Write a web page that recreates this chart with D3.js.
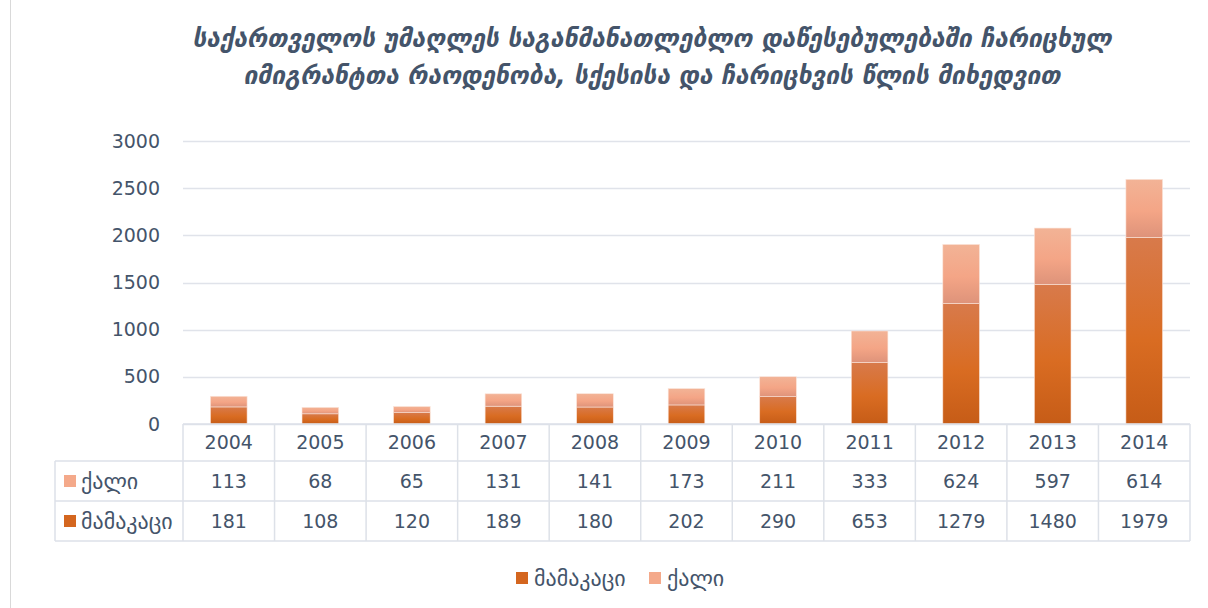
<!DOCTYPE html>
<html>
<head>
<meta charset="utf-8">
<script src="https://cdn.jsdelivr.net/npm/d3@7"></script>
<style>
  body { margin: 0; background: #fff; }
  text { font-family: "DejaVu Sans", "Noto Sans", sans-serif; fill: #44546a; }
</style>
</head>
<body>
<script>
// data
var years = ["2004","2005","2006","2007","2008","2009","2010","2011","2012","2013","2014"];
var male = [181, 108, 120, 189, 180, 202, 290, 653, 1279, 1480, 1979];
var female = [113, 68, 65, 131, 141, 173, 211, 333, 624, 597, 614];
var seriesNames = ["მამაკაცი", "ქალი"];
var yTicks = [0, 500, 1000, 1500, 2000, 2500, 3000];
var titleLines = ["საქართველოს უმაღლეს საგანმანათლებლო დაწესებულებაში ჩარიცხულ",
                  "იმიგრანტთა რაოდენობა, სქესისა და ჩარიცხვის წლის მიხედვით"];

var W = 1208, H = 608;
var margin = {left: 183, right: 18, top: 141, bottom: 184};

var svg = d3.select("body").append("svg")
    .attr("width", W)
    .attr("height", H);

// gradients for the bars
var defs = svg.append("defs");
var gm = defs.append("linearGradient").attr("id", "gMale").attr("x1", 0).attr("y1", 0).attr("x2", 0).attr("y2", 1);
gm.append("stop").attr("offset", "0%").attr("stop-color", "#d87a4b");
gm.append("stop").attr("offset", "55%").attr("stop-color", "#d96c22");
gm.append("stop").attr("offset", "100%").attr("stop-color", "#c65c17");
var gf = defs.append("linearGradient").attr("id", "gFemale").attr("x1", 0).attr("y1", 0).attr("x2", 0).attr("y2", 1);
gf.append("stop").attr("offset", "0%").attr("stop-color", "#f2b396");
gf.append("stop").attr("offset", "55%").attr("stop-color", "#f4a586");
gf.append("stop").attr("offset", "100%").attr("stop-color", "#de937a");

// outer frame
svg.append("rect")
    .attr("x", 10.5).attr("y", -2).attr("width", W - 8).attr("height", H + 4)
    .attr("fill", "none").attr("stroke", "#d9d9d9");

// title
var titleWidths = [919, 817];
svg.append("g").selectAll("text")
    .data(titleLines)
  .enter().append("text")
    .attr("x", 652)
    .attr("y", function(d, i) { return 47 + i * 37; })
    .attr("text-anchor", "middle")
    .attr("textLength", function(d, i) { return titleWidths[i]; })
    .attr("lengthAdjust", "spacingAndGlyphs")
    .style("font-size", "25px")
    .style("font-style", "italic")
    .style("font-weight", "bold")
    .attr("fill", "#44546a")
    .text(function(d) { return d; });

var x = d3.scaleBand()
    .domain(years)
    .range([margin.left, W - margin.right])
    .paddingInner(0)
    .paddingOuter(0);

var y = d3.scaleLinear()
    .domain([0, 3000])
    .range([H - margin.bottom, margin.top]);

// gridlines
svg.append("g").selectAll("line")
    .data(yTicks)
  .enter().append("line")
    .attr("x1", margin.left).attr("x2", W - margin.right)
    .attr("y1", function(d) { return Math.round(y(d)) + 0.5; })
    .attr("y2", function(d) { return Math.round(y(d)) + 0.5; })
    .attr("stroke", "#e0e3ea")
    .attr("stroke-width", 1.5);

// y axis labels
var yAxis = d3.axisLeft(y).tickValues(yTicks).tickFormat(d3.format("d")).tickSize(0).tickPadding(0);
var ya = svg.append("g")
    .attr("transform", "translate(160,0)")
    .call(yAxis);
ya.select(".domain").remove();
ya.selectAll("text")
    .style("font-size", "19px")
    .style("font-family", "'DejaVu Sans', sans-serif")
    .attr("fill", "#5a6478");

// stacked bars
var rows = years.map(function(yr, i) { return {year: yr, male: male[i], female: female[i]}; });
var stack = d3.stack().keys(["male", "female"]);
var layers = stack(rows);
var fills = {male: "url(#gMale)", female: "url(#gFemale)"};
var bw = x.bandwidth() * 0.4;

svg.append("g").selectAll("g")
    .data(layers)
  .enter().append("g")
    .attr("fill", function(d) { return fills[d.key]; })
  .selectAll("rect")
    .data(function(d) { return d; })
  .enter().append("rect")
    .attr("x", function(d) { return x(d.data.year) + (x.bandwidth() - bw) / 2; })
    .attr("y", function(d) { return y(d[1]); })
    .attr("width", bw)
    .attr("height", function(d) { return y(d[0]) - y(d[1]); })
    .attr("stroke", "#fbe3d8")
    .attr("stroke-width", 0.6);

// data table
var tableLeft = 55;
var r0 = H - margin.bottom, r1 = r0 + 37, r2 = r1 + 40, r3 = r2 + 40;
var right = W - margin.right;
var tcol = "#dde1e8";
var tg = svg.append("g").attr("stroke", tcol).attr("stroke-width", 1.5);

// horizontal lines
[[margin.left, r0], [tableLeft, r1], [tableLeft, r2], [tableLeft, r3]].forEach(function(p) {
  tg.append("line").attr("x1", p[0]).attr("x2", right).attr("y1", p[1]).attr("y2", p[1]);
});
// vertical lines
tg.append("line").attr("x1", tableLeft).attr("x2", tableLeft).attr("y1", r1).attr("y2", r3);
years.concat(["end"]).forEach(function(yr, i) {
  var xx = i < years.length ? x(yr) : right;
  tg.append("line").attr("x1", xx).attr("x2", xx).attr("y1", r0).attr("y2", r3);
});

// header years
svg.append("g").selectAll("text")
    .data(years)
  .enter().append("text")
    .attr("x", function(d) { return x(d) + x.bandwidth() / 2; })
    .attr("y", r0 + 25)
    .attr("text-anchor", "middle")
    .style("font-size", "19px")
    .attr("fill", "#5a6478")
    .text(function(d) { return d; });

var tableRows = [
  {name: seriesNames[1], vals: female, fill: "#f4a98a", y: r1},
  {name: seriesNames[0], vals: male, fill: "#d4661f", y: r2}
];
tableRows.forEach(function(r) {
  svg.append("rect")
    .attr("x", 64).attr("y", r.y + 14).attr("width", 12).attr("height", 12)
    .attr("fill", r.fill);
  svg.append("text")
    .attr("x", 81).attr("y", r.y + 28)
    .style("font-size", "22px")
    .attr("fill", "#5a6478")
    .text(r.name);
  svg.append("g").selectAll("text")
      .data(r.vals)
    .enter().append("text")
      .attr("x", function(d, i) { return x(years[i]) + x.bandwidth() / 2; })
      .attr("y", r.y + 27)
      .attr("text-anchor", "middle")
      .style("font-size", "19px")
      .attr("fill", "#5a6478")
      .text(function(d) { return d; });
});

// legend
var legendItems = [
  {name: seriesNames[0], fill: "#d4661f", x: 516},
  {name: seriesNames[1], fill: "#f4a98a", x: 649}
];
legendItems.forEach(function(l) {
  svg.append("rect")
    .attr("x", l.x).attr("y", 572).attr("width", 12).attr("height", 12)
    .attr("fill", l.fill);
  svg.append("text")
    .attr("x", l.x + 18).attr("y", 586)
    .style("font-size", "22px")
    .attr("fill", "#5a6478")
    .text(l.name);
});
</script>
</body>
</html>
